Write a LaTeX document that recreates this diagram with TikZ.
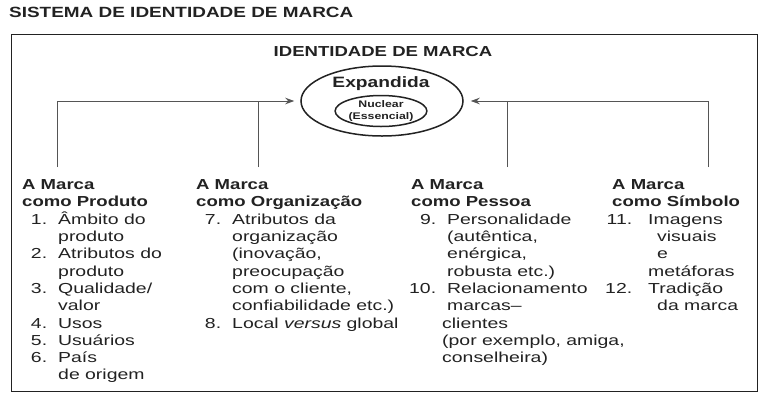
\documentclass[tikz,border=0pt]{standalone}
\usepackage{fontspec}
\setmainfont{Liberation Sans}[UprightFeatures={FakeStretch=1.34},BoldFeatures={FakeStretch=1.28},ItalicFeatures={FakeStretch=1.34},BoldItalicFeatures={FakeStretch=1.28}]
\usetikzlibrary{arrows.meta,shapes.geometric}
\definecolor{ink}{HTML}{222222}
\definecolor{wirec}{HTML}{555555}
\newcommand\itm[2]{\makebox[25pt][r]{#1}\hspace{11pt}#2}
\newcommand\itmb[2]{\makebox[20pt][r]{#1}\hspace{16pt}#2}
\newcommand\cnt[2][36pt]{\hspace*{#1}#2}
\begin{document}
\begin{tikzpicture}[x=1pt,y=-1pt,
  txt/.style={inner sep=0pt, text=ink, font=\fontsize{14.5}{17.3}\selectfont},
  boldtxt/.style={inner sep=0pt, text=ink, font=\fontsize{14.5}{17.3}\selectfont\bfseries},
  col/.style={txt, anchor=north west, align=left},
  wire/.style={draw=wirec, line width=0.9pt},
  arr/.style={wire, -{Stealth[length=9pt,width=6.5pt]}},
  ring/.style={draw=ink, ellipse, line width=1.5pt, inner sep=0pt}]
\useasboundingbox[fill=white] (0,0) rectangle (768,400);

\node[boldtxt, anchor=west, font=\fontsize{14.8}{17}\selectfont\bfseries] (title) at (9,12) {SISTEMA DE IDENTIDADE DE MARCA};

\node[draw=ink, line width=1.8pt, anchor=north west, minimum width=746pt, minimum height=357pt, inner sep=0pt] (frame) at (10.5,33.5) {};

\node[boldtxt] (idt) at (383,52) {IDENTIDADE DE MARCA};
\node[ring, minimum width=162pt, minimum height=70pt] (exp) at (382,101) {};
\node[boldtxt, font=\fontsize{15}{17.3}\selectfont\bfseries] (expt) at (381,84) {Expandida};
\node[ring, minimum width=91pt, minimum height=31pt, text=ink, align=center,
      font=\fontsize{9.6}{12.8}\selectfont\bfseries] (nuc) at (381,111) {Nuclear\\(Essencial)};

\coordinate (l1) at (57,167);
\coordinate (l2) at (258,167);
\coordinate (r1) at (507,167);
\coordinate (r2) at (708,167);
\draw[arr, shorten >=6pt] (l1) |- (exp.west);
\draw[wire] (l2) -- (l2 |- exp.west);
\draw[arr, shorten >=7pt] (r2) |- (exp.east);
\draw[wire] (r1) -- (r1 |- exp.east);

\node[col] (c1) at (22,179.5) {%
\textbf{A Marca}\\
\textbf{como Produto}\\
\itm{1.}{Âmbito do}\\
\cnt{produto}\\
\itm{2.}{Atributos do}\\
\cnt{produto}\\
\itm{3.}{Qualidade/}\\
\cnt{valor}\\
\itm{4.}{Usos}\\
\itm{5.}{Usuários}\\
\itm{6.}{País}\\
\cnt{de origem}};

\node[col] (c2) at (196,179.5) {%
\textbf{A Marca}\\
\textbf{como Organização}\\
\itm{7.}{Atributos da}\\
\cnt{organização}\\
\cnt{(inovação,}\\
\cnt{preocupação}\\
\cnt{com o cliente,}\\
\cnt{confiabilidade etc.)}\\
\itm{8.}{Local \textit{versus} global}};

\node[col] (c3) at (411,179.5) {%
\textbf{A Marca}\\
\textbf{como Pessoa}\\
\itm{9.}{Personalidade}\\
\cnt{(autêntica,}\\
\cnt{enérgica,}\\
\cnt{robusta etc.)}\\
\itm{10.}{Relacionamento}\\
\cnt{marcas–}\\
\cnt[31pt]{clientes}\\
\cnt[31pt]{(por exemplo, amiga,}\\
\cnt[31pt]{conselheira)}};

\node[col] (c4) at (612,179.5) {%
\textbf{A Marca}\\
\textbf{como Símbolo}\\
\itmb{11.}{Imagens}\\
\cnt[45pt]{visuais}\\
\cnt[45pt]{e}\\
\cnt{metáforas}\\
\itmb{12.}{Tradição}\\
\cnt[45pt]{da marca}};
\end{tikzpicture}
\end{document}
